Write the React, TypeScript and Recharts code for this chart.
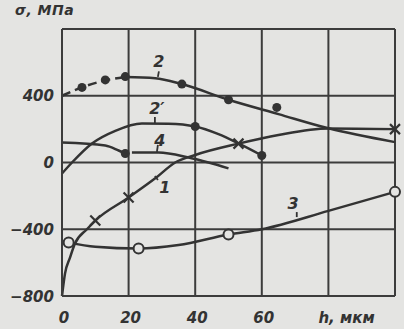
import { ComposedChart, Line, Scatter, XAxis, YAxis, CartesianGrid, ReferenceLine } from "recharts";

const X_TICKS = [0, 20, 40, 60, 80, 100];
const X_TICK_LABELS = ["0", "20", "40", "60", "h, мкм", ""];
const Y_TICKS = [-800, -400, 0, 400, 800];
const Y_TICK_LABELS = ["−800", "−400", "0", "400", ""];

// curve 1 (crosses)
const c1H = [0, 0.9, 2.4, 3.9, 7.5, 10, 20, 28, 34, 40, 53, 65, 80, 100];
const c1S = [-800, -666, -570, -486, -400, -348, -210, -95, 0, 45, 113, 165, 204, 200];
const c1MarkH = [10, 20, 53, 100];
const c1MarkS = [-348, -210, 113, 200];

// curve 2 (filled dots), dashed start then solid
const c2aH = [0, 6, 13, 19];
const c2aS = [400, 450, 492, 512];
const c2bH = [19, 28, 36, 50, 65, 80, 100];
const c2bS = [512, 505, 470, 376, 290, 205, 122];
const c2MarkH = [6, 13, 19, 36, 50, 64.5];
const c2MarkS = [450, 495, 515, 470, 376, 330];

// curve 2'
const c2pH = [0, 3, 9, 16, 24, 32, 40, 47, 53, 60];
const c2pS = [-66, 0, 114, 190, 234, 232, 216, 170, 114, 42];
const c2pMarkH = [40, 60];
const c2pMarkS = [216, 42];

// curve 4
const c4aH = [0, 13, 17, 19];
const c4aS = [120, 102, 72, 54];
const c4bH = [21, 29, 38, 44, 50];
const c4bS = [60, 60, 30, 0, -35];
const c4MarkH = [19];
const c4MarkS = [54];

// curve 3 (open circles)
const c3H = [2, 10, 23, 35, 50, 60, 80, 100];
const c3S = [-480, -505, -516, -495, -432, -400, -290, -176];
const c3MarkH = [2, 23, 50, 100];
const c3MarkS = [-480, -516, -432, -176];

// curve numbers and their leader ticks
const CURVE_LABELS = [
  { x: 29.1, y: 606, text: "2" },
  { x: 28.5, y: 324, text: "2′" },
  { x: 29.4, y: 135, text: "4" },
  { x: 30.9, y: -147, text: "1" },
  { x: 69.4, y: -243, text: "3" },
];
const LEADERS = [
  [29.1, 546, 28.8, 513],
  [27.9, 273, 27.9, 237],
  [28.8, 105, 28.5, 63],
  [27.9, -81, 28.8, -105],
  [70.5, -297, 70.5, -327],
];

const zip = (h: number[], s: number[]) => h.map((x, i) => ({ x, y: s[i] }));

const INK = "#333";
const BG = "#e4e4e2";
const FONT = "'DejaVu Sans', sans-serif";

const XTick = (props: any) => {
  const { x, y, payload } = props;
  const i = X_TICKS.indexOf(payload.value);
  const unit = payload.value === 80;
  return (
    <text
      x={unit ? x - 10 : x + 2}
      y={y + 27}
      textAnchor={unit ? "start" : "middle"}
      fill={INK}
      fontFamily={FONT}
      fontStyle="italic"
      fontWeight="bold"
      fontSize={15}
    >
      {X_TICK_LABELS[i]}
    </text>
  );
};

const YTick = (props: any) => {
  const { x, y, payload } = props;
  const i = Y_TICKS.indexOf(payload.value);
  return (
    <text
      x={x - 8}
      y={y + 5.5}
      textAnchor="end"
      fill={INK}
      fontFamily={FONT}
      fontStyle="italic"
      fontWeight="bold"
      fontSize={15}
    >
      {Y_TICK_LABELS[i]}
    </text>
  );
};

const Dot = (p: any) => <circle cx={p.cx} cy={p.cy} r={4.5} fill={INK} />;
const Ring = (p: any) => (
  <circle cx={p.cx} cy={p.cy} r={5} fill={BG} stroke={INK} strokeWidth={2} />
);
const Cross = (p: any) => (
  <g stroke={INK} strokeWidth={2.2}>
    <line x1={p.cx - 5} y1={p.cy - 5} x2={p.cx + 5} y2={p.cy + 5} />
    <line x1={p.cx - 5} y1={p.cy + 5} x2={p.cx + 5} y2={p.cy - 5} />
  </g>
);
const Tag = (p: any) => (
  <text
    x={p.cx}
    y={p.cy + 6}
    textAnchor="middle"
    fill={INK}
    fontFamily={FONT}
    fontStyle="italic"
    fontWeight="bold"
    fontSize={16}
  >
    {p.payload.text}
  </text>
);

export default function App() {
  const line = { type: "monotone" as const, dataKey: "y", stroke: INK, strokeWidth: 2.5, dot: false, isAnimationActive: false };
  return (
    <div style={{ position: "fixed", left: 0, top: 0, width: 404, height: 329, background: BG }}>
      <div
        style={{
          position: "absolute",
          left: 15,
          top: 2,
          fontFamily: FONT,
          fontStyle: "italic",
          fontWeight: "bold",
          fontSize: 14,
          letterSpacing: 0.5,
          color: INK,
        }}
      >
        σ, МПа
      </div>
      <ComposedChart width={404} height={329} margin={{ top: 29, right: 9, left: 0, bottom: 0 }}>
        <CartesianGrid stroke="#3c3c3c" strokeWidth={2} />
        <XAxis
          type="number"
          dataKey="x"
          domain={[0, 100]}
          ticks={X_TICKS}
          tick={<XTick />}
          tickLine={false}
          tickSize={0}
          tickMargin={0}
          axisLine={{ stroke: "#3c3c3c", strokeWidth: 2 }}
          height={33}
          interval={0}
        />
        <YAxis
          type="number"
          domain={[-800, 800]}
          ticks={Y_TICKS}
          tick={<YTick />}
          tickLine={false}
          tickSize={0}
          tickMargin={0}
          axisLine={{ stroke: "#3c3c3c", strokeWidth: 2 }}
          width={62}
          interval={0}
        />
        <ReferenceLine y={800} stroke="#3c3c3c" strokeWidth={2} />
        <ReferenceLine x={100} stroke="#3c3c3c" strokeWidth={2} />

        <Line {...line} data={zip(c2aH, c2aS)} strokeDasharray="9 5" />
        <Line {...line} data={zip(c2bH, c2bS)} />
        <Line {...line} data={zip(c2pH, c2pS)} />
        <Line {...line} data={zip(c4aH, c4aS)} />
        <Line {...line} data={zip(c4bH, c4bS)} />
        <Line {...line} data={zip(c1H, c1S)} />
        <Line {...line} data={zip(c3H, c3S)} />

        <Scatter data={zip(c2MarkH, c2MarkS)} dataKey="y" shape={<Dot />} isAnimationActive={false} />
        <Scatter data={zip(c2pMarkH, c2pMarkS)} dataKey="y" shape={<Dot />} isAnimationActive={false} />
        <Scatter data={zip(c4MarkH, c4MarkS)} dataKey="y" shape={<Dot />} isAnimationActive={false} />
        <Scatter data={zip(c1MarkH, c1MarkS)} dataKey="y" shape={<Cross />} isAnimationActive={false} />
        <Scatter data={zip(c3MarkH, c3MarkS)} dataKey="y" shape={<Ring />} isAnimationActive={false} />

        {LEADERS.map((l, i) => (
          <ReferenceLine
            key={i}
            segment={[{ x: l[0], y: l[1] }, { x: l[2], y: l[3] }]}
            stroke={INK}
            strokeWidth={1.8}
          />
        ))}
        <Scatter data={CURVE_LABELS} dataKey="y" shape={<Tag />} isAnimationActive={false} />
      </ComposedChart>
    </div>
  );
}
